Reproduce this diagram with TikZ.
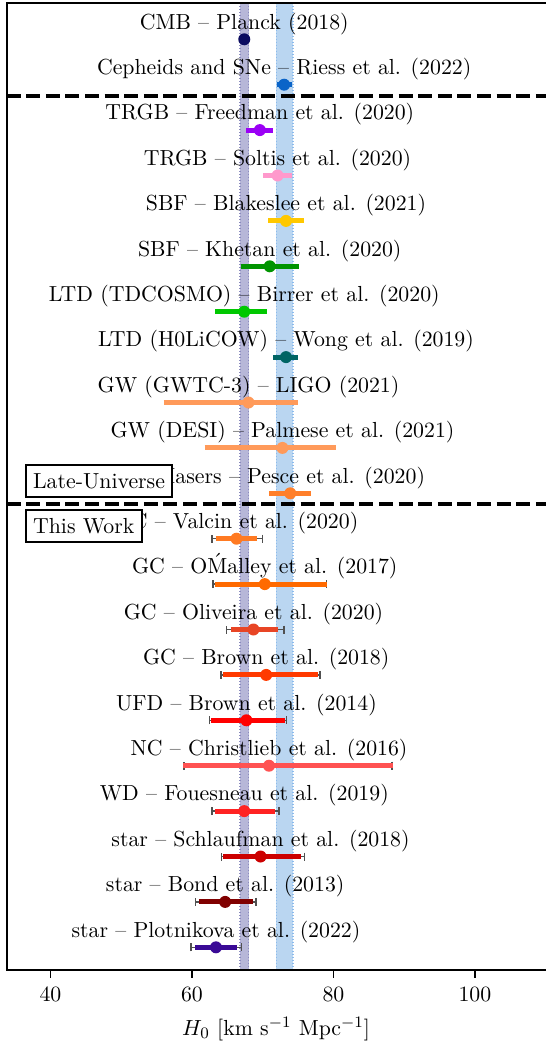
\documentclass[tikz,border=0pt]{standalone}
\usetikzlibrary{calc}
\usetikzlibrary{arrows.meta, backgrounds}
\usepackage{amsmath}

\definecolor{cmbnavy}{HTML}{0B0B60}
\definecolor{riessblue}{HTML}{0A64C8}
\definecolor{trgbviolet}{HTML}{9B00F5}
\definecolor{trgbpink}{HTML}{FF99CC}
\definecolor{sbfgold}{HTML}{FFC800}
\definecolor{sbfgreen}{HTML}{009400}
\definecolor{tdgreen}{HTML}{00C800}
\definecolor{lensteal}{HTML}{006464}
\definecolor{gwpeach}{HTML}{FF9A5A}
\definecolor{maserorange}{HTML}{FF7F2A}
\definecolor{valcinorange}{HTML}{FF7A22}
\definecolor{omalleyorange}{HTML}{FF6A00}
\definecolor{oliveirared}{HTML}{E84525}
\definecolor{brownred}{HTML}{FF3A00}
\definecolor{ufdred}{HTML}{FF0000}
\definecolor{ncred}{HTML}{FF5252}
\definecolor{wdred}{HTML}{FF2222}
\definecolor{schlaufmanred}{HTML}{CC0000}
\definecolor{bondred}{HTML}{800000}
\definecolor{plotindigo}{HTML}{3A0A96}
\definecolor{capgray}{HTML}{505050}
\definecolor{bandpurple}{HTML}{B7B7D8}
\definecolor{bandpurpleedge}{HTML}{8A8ABE}
\definecolor{bandblue}{HTML}{BAD6F1}
\definecolor{bandblueedge}{HTML}{8DBBEB}

\begin{document}
\begin{tikzpicture}[
	x=3.5375pt, y=-0.5pt,
	font=\fontsize{10.9pt}{13pt}\selectfont,
	lbl/.style={text height=.75em, text depth=.25em, inner sep=0pt},
	errbar/.style={line width=2.5pt},
	capbar/.style={line width=0.75pt, capgray, {Bar[width=4pt]}-{Bar[width=4pt]}},
	tag/.style={draw, fill=white, line width=0.9pt, inner xsep=3.6pt, minimum height=16pt, anchor=west},
	sep/.style={line width=1.6pt, dash pattern=on 7pt off 2.8pt},
	spine/.style={line width=0.9pt}]

	\useasboundingbox (32.876,0) rectangle (109.91,1044);

	\def\rowtop{39.3}
	\def\rowsep{45.4}
	\def\ytop{2.7}
	\def\ybot{970}
	\def\xleft{33.82}
	\def\xright{111}

	\def\estimate[#1](#2:#3:#4:#5)#6% Syntax: [colour] (row:low:value:high) {label}
		{\pgfmathsetmacro{\ry}{\rowtop+\rowsep*#2}
		 \draw[errbar,#1] (#3,\ry) -- (#5,\ry);
		 \fill[#1] (#4,\ry) circle (3pt);
		 \node[lbl] (lbl#2) at (#4,\ry-15.3) {#6}; }

	\def\ageestimate[#1](#2:#3:#4:#5:#6:#7)#8% Syntax: [colour] (row:cap low:low:value:high:cap high) {label}
		{\pgfmathsetmacro{\ry}{\rowtop+\rowsep*#2}
		 \draw[capbar] (#3,\ry) -- (#7,\ry);
		 \draw[errbar,#1] (#4,\ry) -- (#6,\ry);
		 \fill[#1] (#5,\ry) circle (3pt);
		 \node[lbl] (lbl#2) at (#5,\ry-15.3) {#8}; }

	\def\xtick(#1)% Syntax: (value)
		{\draw[spine] (#1,\ybot) -- (#1,978);
		 \node[anchor=base] (tick#1) at (#1,1001) {#1}; }

	% Planck and SH0ES bands
	\fill[bandpurple] (66.75,\ytop) rectangle (68.0,\ybot);
	\fill[bandblue] (71.85,\ytop) rectangle (74.35,\ybot);
	\draw[bandpurpleedge, line width=0.6pt, dash pattern=on 0.6pt off 0.9pt] (66.8,\ytop) -- (66.8,\ybot) (67.95,\ytop) -- (67.95,\ybot);
	\draw[bandblueedge, line width=0.6pt, dash pattern=on 0.6pt off 0.9pt] (71.9,\ytop) -- (71.9,\ybot) (74.3,\ytop) -- (74.3,\ybot);

	% early universe
	\estimate[cmbnavy](0:66.9:67.4:67.9){CMB -- Planck (2018)}
	\estimate[riessblue](1:72.0:73.04:74.08){Cepheids and SNe -- Riess et al. (2022)}

	% late universe
	\estimate[trgbviolet](2:67.7:69.6:71.5){TRGB -- Freedman et al. (2020)}
	\estimate[trgbpink](3:70.1:72.1:74.1){TRGB -- Soltis et al. (2020)}
	\estimate[sbfgold](4:70.8:73.3:75.8){SBF -- Blakeslee et al. (2021)}
	\estimate[sbfgreen](5:66.9:71.0:75.1){SBF -- Khetan et al. (2020)}
	\estimate[tdgreen](6:63.3:67.4:70.6){LTD (TDCOSMO) -- Birrer et al. (2020)}
	\estimate[lensteal](7:71.5:73.3:75.0){LTD (H0LiCOW) -- Wong et al. (2019)}
	\estimate[gwpeach](8:56.0:68.0:75.0){GW (GWTC-3) -- LIGO (2021)}
	\estimate[gwpeach](9:61.8:72.8:80.3){GW (DESI) -- Palmese et al. (2021)}
	\estimate[maserorange](10:70.9:73.9:76.9){Masers -- Pesce et al. (2020)}

	% ages
	\ageestimate[valcinorange](11:62.7:63.4:66.3:69.2:70.1){GC -- Valcin et al. (2020)}
	\ageestimate[omalleyorange](12:62.9:63.3:70.3:79.1:79.1){GC -- O\accent"B4 Malley et al. (2017)}
	\ageestimate[oliveirared](13:64.8:65.5:68.7:72.2:73.1){GC -- Oliveira et al. (2020)}
	\ageestimate[brownred](14:64.0:64.4:70.5:77.8:78.2){GC -- Brown et al. (2018)}
	\ageestimate[ufdred](15:62.35:62.75:67.7:73.1:73.5){UFD -- Brown et al. (2014)}
	\ageestimate[ncred](16:58.8:58.8:70.9:88.4:88.4){NC -- Christlieb et al. (2016)}
	\ageestimate[wdred](17:62.7:63.3:67.4:71.8:72.4){WD -- Fouesneau et al. (2019)}
	\ageestimate[schlaufmanred](18:64.1:64.4:69.7:75.4:76.0){star -- Schlaufman et al. (2018)}
	\ageestimate[bondred](19:60.4:61.0:64.7:68.6:69.2){star -- Bond et al. (2013)}
	\ageestimate[plotindigo](20:59.75:60.5:63.4:66.4:67.1){star -- Plotnikova et al. (2022)}

	% separators
	\draw[sep] (\xleft,96) -- (\xright,96);
	\draw[sep] (\xleft,504) -- (\xright,504);

	\node[tag] (late) at (36.41,481) {Late-Universe};
	\node[tag] (this) at (36.41,526) {This Work};

	% frame and axis
	\draw[spine] (\xright,\ytop) -- (\xleft,\ytop) -- (\xleft,\ybot) -- (\xright,\ybot);
	\xtick(40)
	\xtick(60)
	\xtick(80)
	\xtick(100)
	\node[anchor=base] (xlabel) at (71.9,1035) {$H_0$ [km s$^{-1}$ Mpc$^{-1}$]};

\end{tikzpicture}
\end{document}
